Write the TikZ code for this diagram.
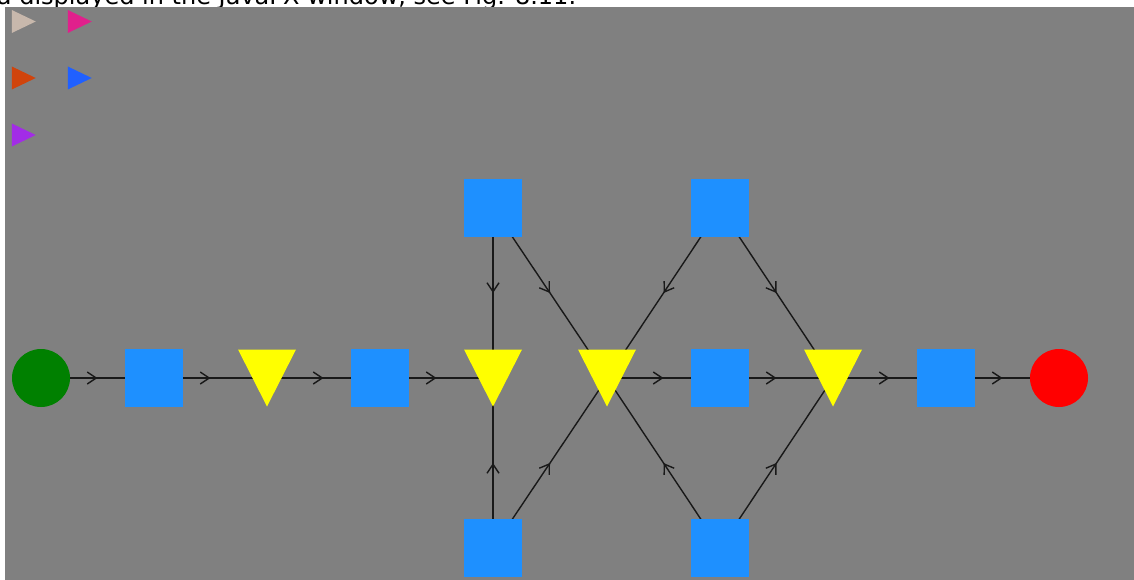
\documentclass[tikz,border=0pt]{standalone}
\usepackage{fontspec}
\setmainfont{DejaVu Sans}
\usetikzlibrary{shapes.geometric, arrows.meta, decorations.markings}
\definecolor{canvas}{HTML}{808080}
\definecolor{placeblue}{HTML}{1E90FF}
\definecolor{gateyellow}{HTML}{FFFF00}
\definecolor{srcgreen}{HTML}{008000}
\definecolor{sinkred}{HTML}{FF0000}
\definecolor{tokbeige}{HTML}{C8B8AC}
\definecolor{tokpink}{HTML}{E0208C}
\definecolor{tokorange}{HTML}{D0440C}
\definecolor{tokblue}{HTML}{2060FF}
\definecolor{tokpurple}{HTML}{A22CE6}
\pgfdeclarelayer{bg}
\pgfdeclarelayer{edges}
\pgfsetlayers{bg,edges,main}

\begin{document}
\begin{tikzpicture}[x=1pt, y=-1pt,
  every node/.style={inner sep=0pt, outer sep=0pt},
  box/.style={rectangle, fill=placeblue, minimum size=58pt},
  gate/.style={rectangle, minimum width=58pt, minimum height=57pt,
    path picture={\fill[gateyellow] (path picture bounding box.north west)
      -- (path picture bounding box.north east) -- (path picture bounding box.south) -- cycle;}},
  endpt/.style={circle, minimum size=58pt},
  tok/.style={isosceles triangle, isosceles triangle stretches, minimum width=23pt, minimum height=24pt},
  flow/.style={draw=black!90, line width=1.4pt, postaction={decorate},
    decoration={markings, mark=at position 0.5 with {\arrow{Straight Barb[length=9pt, width=12pt]}}}}]
  \useasboundingbox (0,0) rectangle (1134,580);
  \clip (0,0) rectangle (1134,580);

  % Page and canvas
  \begin{pgfonlayer}{bg}
    \fill[white] (0,0) rectangle (1134,580);
    \node[anchor=base west, font=\fontsize{24}{28}\selectfont] (caption) at (-3,5)
      {a displayed in the JavaFX window, see Fig. 8.11.};
    \fill[canvas] (5,7) rectangle (1134,580);
  \end{pgfonlayer}

  % Tokens
  \foreach \nm/\col/\x/\y in {tokA/tokbeige/19/21.5, tokB/tokpink/75/21.5, tokC/tokorange/19/78,
                              tokD/tokblue/75/78, tokE/tokpurple/19/135}
    \node[tok, fill=\col] (\nm) at (\x,\y) {};

  % Net
  \node[endpt, fill=srcgreen] (src) at (41,378) {};
  \node[endpt, fill=sinkred] (sink) at (1059,378) {};
  \foreach \nm/\x in {s1/154, s2/380, s3/720, s4/946}
    \node[box] (\nm) at (\x,378) {};
  \foreach \nm/\x in {t1/267, t2/493, t3/607, t4/833}
    \node[gate] (\nm) at (\x,378) {};
  \node[box] (up1) at (493,208) {};
  \node[box] (up2) at (720,208) {};
  \node[box] (dn1) at (493,548) {};
  \node[box] (dn2) at (720,548) {};

  % Arcs
  \begin{pgfonlayer}{edges}
    \foreach \a/\b in {src/s1, s1/t1, t1/s2, s2/t2, t3/s3, s3/t4, t4/s4, s4/sink,
                       up1/t2, up1/t3, dn1/t2, dn1/t3, up2/t3, up2/t4, dn2/t3, dn2/t4}
      \draw[flow] (\a.center) -- (\b.center);
  \end{pgfonlayer}
\end{tikzpicture}
\end{document}
